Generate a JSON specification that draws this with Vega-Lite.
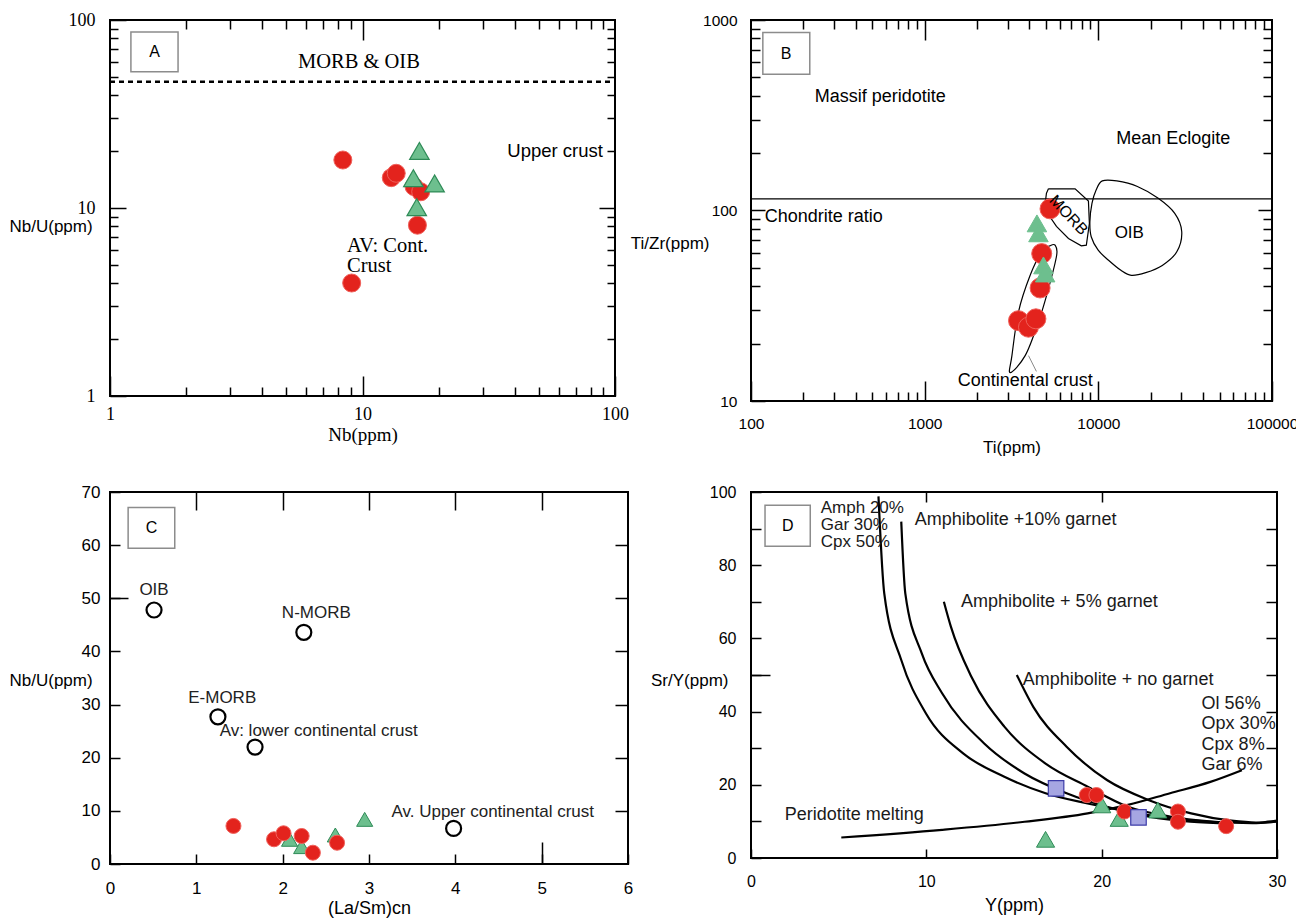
{
 "$schema": "https://vega.github.io/schema/vega-lite/v6.json",
 "background": "white",
 "padding": {"left": 8, "top": 10, "right": 5, "bottom": 5},
 "columns": 2,
 "spacing": {"row": 91, "column": 123},
 "bounds": "flush",
 "config": {
  "font": "Liberation Sans",
  "view": {"stroke": "black", "strokeWidth": 2},
  "axis": {"domain": false, "grid": false, "ticks": true, "tickColor": "black", "tickWidth": 1.5, "labelColor": "black", "titleColor": "black", "labelFlush": false, "labelOverlap": false, "titleFontWeight": "normal", "labelFont": "Liberation Sans", "titleFont": "Liberation Sans", "labelFontSize": 16, "titleFontSize": 17}
 },
 "concat": [
  {
   "width": 505, "height": 376,
   "layer": [
    {
     "data": {"values": [{"nb": 1, "nbu": 47}, {"nb": 100, "nbu": 47}]},
     "mark": {"type": "line", "color": "black", "strokeWidth": 2.5, "strokeDash": [5, 4]},
     "encoding": {
      "x": {"field": "nb", "type": "quantitative", "scale": {"type": "log", "domain": [1, 100]},
       "axis": {"orient": "bottom", "values": [1, 10, 100], "format": "d", "offset": -20, "tickSize": 20,
        "labelPadding": 9, "labelFont": "Liberation Serif", "labelFontSize": 18,
        "title": "Nb(ppm)", "titleFont": "Liberation Serif", "titleFontSize": 19, "titleY": 58, "titleBaseline": "middle"}},
      "y": {"field": "nbu", "type": "quantitative", "scale": {"type": "log", "domain": [1, 100]},
       "axis": {"orient": "left", "values": [1, 10, 100], "format": "d", "offset": -16, "tickSize": 16,
        "labelPadding": 15, "labelFont": "Liberation Serif", "labelFontSize": 18,
        "title": "Nb/U(ppm)", "titleAngle": 0, "titleAlign": "left", "titleBaseline": "middle", "titleX": -117, "titleY": 206}}
     }
    },
    {
     "data": {"values": [{"nb": 8.36, "nbu": 18.0}, {"nb": 13.0, "nbu": 14.5}, {"nb": 13.6, "nbu": 15.3}, {"nb": 16.0, "nbu": 13.0}, {"nb": 17.0, "nbu": 12.2}, {"nb": 16.5, "nbu": 8.1}, {"nb": 9.06, "nbu": 3.99}]},
     "mark": {"type": "point", "shape": "circle", "filled": true, "size": 324, "fill": "#e3231d", "stroke": "#f0605a", "strokeWidth": 1, "opacity": 1},
     "encoding": {
      "x": {"field": "nb", "type": "quantitative", "scale": {"type": "log", "domain": [1, 100]},
       "axis": {"orient": "bottom", "values": [2,3,4,5,6,7,8,9,20,30,40,50,60,70,80,90], "offset": -9, "tickSize": 9, "labels": false, "title": null}},
      "y": {"field": "nbu", "type": "quantitative", "scale": {"type": "log", "domain": [1, 100]},
       "axis": {"orient": "left", "values": [2,3,4,5,6,7,8,9,20,30,40,50,60,70,80,90], "offset": -8, "tickSize": 8, "labels": false, "title": null}}
     }
    },
    {
     "data": {"values": [{"nb": 16.8, "nbu": 20.1}, {"nb": 15.9, "nbu": 14.4}, {"nb": 19.3, "nbu": 13.5}, {"nb": 16.4, "nbu": 10.1}]},
     "mark": {"type": "point", "shape": "triangle-up", "filled": true, "size": 380, "fill": "#6dbf8e", "stroke": "#2e8b57", "strokeWidth": 1.2, "opacity": 1},
     "encoding": {
      "x": {"field": "nb", "type": "quantitative", "scale": {"type": "log", "domain": [1, 100]},
       "axis": {"orient": "top", "values": [10], "offset": -20, "tickSize": 20, "labels": false, "title": null}},
      "y": {"field": "nbu", "type": "quantitative", "scale": {"type": "log", "domain": [1, 100]},
       "axis": {"orient": "right", "values": [10], "offset": -16, "tickSize": 16, "labels": false, "title": null}}
     }
    },
    {
     "data": {"values": [{"nb": 9.68, "nbu": 59.9, "t": "MORB & OIB"}]},
     "mark": {"type": "text", "font": "Liberation Serif", "fontSize": 20.5, "align": "center", "baseline": "middle", "color": "black"},
     "encoding": {
      "x": {"field": "nb", "type": "quantitative", "scale": {"type": "log", "domain": [1, 100]},
       "axis": {"orient": "top", "values": [2,3,4,5,6,7,8,9,20,30,40,50,60,70,80,90], "offset": -9, "tickSize": 9, "labels": false, "title": null}},
      "y": {"field": "nbu", "type": "quantitative", "scale": {"type": "log", "domain": [1, 100]},
       "axis": {"orient": "right", "values": [2,3,4,5,6,7,8,9,20,30,40,50,60,70,80,90], "offset": -8, "tickSize": 8, "labels": false, "title": null}},
      "text": {"field": "t"}
     }
    },
    {
     "data": {"values": [{"nb": 8.68, "nbu": 6.25, "t": "AV: Cont."}, {"nb": 8.68, "nbu": 4.9, "t": "Crust"}]},
     "mark": {"type": "text", "font": "Liberation Serif", "fontSize": 20.5, "align": "left", "baseline": "middle", "color": "black"},
     "encoding": {
      "x": {"field": "nb", "type": "quantitative", "scale": {"type": "log", "domain": [1, 100]}, "axis": null},
      "y": {"field": "nbu", "type": "quantitative", "scale": {"type": "log", "domain": [1, 100]}, "axis": null},
      "text": {"field": "t"}
     }
    },
    {
     "data": {"values": [{"nb": 89.6, "nbu": 20.2, "t": "Upper crust"}]},
     "mark": {"type": "text", "font": "Liberation Sans", "fontSize": 18.5, "align": "right", "baseline": "middle", "color": "black"},
     "encoding": {
      "x": {"field": "nb", "type": "quantitative", "scale": {"type": "log", "domain": [1, 100]}, "axis": null},
      "y": {"field": "nbu", "type": "quantitative", "scale": {"type": "log", "domain": [1, 100]}, "axis": null},
      "text": {"field": "t"}
     }
    },
    {
     "data": {"values": [{"bx": 1.21, "bx2": 1.86, "by": 53, "by2": 86.4}]},
     "mark": {"type": "rect", "fill": "white", "fillOpacity": 0, "stroke": "#8c8c8c", "strokeWidth": 1.5},
     "encoding": {
      "x": {"field": "bx", "type": "quantitative", "scale": {"type": "log", "domain": [1, 100]}, "axis": null},
      "x2": {"field": "bx2"},
      "y": {"field": "by", "type": "quantitative", "scale": {"type": "log", "domain": [1, 100]}, "axis": null},
      "y2": {"field": "by2"}
     }
    },
    {
     "data": {"values": [{"nb": 1.5, "nbu": 67.6, "t": "A"}]},
     "mark": {"type": "text", "font": "Liberation Sans", "fontSize": 16, "align": "center", "baseline": "middle", "color": "black"},
     "encoding": {
      "x": {"field": "nb", "type": "quantitative", "scale": {"type": "log", "domain": [1, 100]}, "axis": null},
      "y": {"field": "nbu", "type": "quantitative", "scale": {"type": "log", "domain": [1, 100]}, "axis": null},
      "text": {"field": "t"}
     }
    }
   ],
   "resolve": {"axis": {"x": "independent", "y": "independent"}}
  },
  {
   "width": 521, "height": 381,
   "layer": [
    {
     "data": {"values": [{"ti": 100, "tz": 115}, {"ti": 100000, "tz": 115}]},
     "mark": {"type": "line", "color": "black", "strokeWidth": 1.2},
     "encoding": {
      "x": {"field": "ti", "type": "quantitative", "scale": {"type": "log", "domain": [100, 100000]},
       "axis": {"orient": "bottom", "values": [100, 1000, 10000, 100000], "format": "d", "offset": -20, "tickSize": 20,
        "labelPadding": 15, "labelFontSize": 15.5, "title": "Ti(ppm)", "titleY": 66, "titleBaseline": "middle"}},
      "y": {"field": "tz", "type": "quantitative", "scale": {"type": "log", "domain": [10, 1000]},
       "axis": {"orient": "left", "values": [10, 100, 1000], "format": "d", "offset": -14, "tickSize": 14,
        "labelPadding": 14, "labelFontSize": 15.5, "title": "Ti/Zr(ppm)", "titleAngle": 0, "titleAlign": "right", "titleBaseline": "middle", "titleX": -56, "titleY": 223}}
     }
    },
    {
     "data": {"values": [{"ti": 5160, "tz": 130, "i": 0}, {"ti": 7350, "tz": 130, "i": 1}, {"ti": 8770, "tz": 112, "i": 2}, {"ti": 8880, "tz": 85.5, "i": 3}, {"ti": 8530, "tz": 65.8, "i": 4}, {"ti": 7980, "tz": 65.3, "i": 5}, {"ti": 6730, "tz": 71.3, "i": 6}, {"ti": 5740, "tz": 82.6, "i": 7}, {"ti": 5100, "tz": 96.6, "i": 8}, {"ti": 4940, "tz": 109, "i": 9}, {"ti": 5025, "tz": 123, "i": 10}, {"ti": 5160, "tz": 130, "i": 11}]},
     "mark": {"type": "line", "color": "black", "strokeWidth": 1.2},
     "encoding": {
      "x": {"field": "ti", "type": "quantitative", "scale": {"type": "log", "domain": [100, 100000]},
       "axis": {"orient": "bottom", "values": [200,300,400,500,600,700,800,900,2000,3000,4000,5000,6000,7000,8000,9000,20000,30000,40000,50000,60000,70000,80000,90000], "offset": -9, "tickSize": 9, "labels": false, "title": null}},
      "y": {"field": "tz", "type": "quantitative", "scale": {"type": "log", "domain": [10, 1000]},
       "axis": {"orient": "left", "values": [20,30,40,50,60,70,80,90,200,300,400,500,600,700,800,900], "offset": -9, "tickSize": 9, "labels": false, "title": null}},
      "order": {"field": "i", "type": "quantitative"}
     }
    },
    {
     "data": {"values": [{"ti": 10540, "tz": 143, "i": 0}, {"ti": 12770, "tz": 143, "i": 1}, {"ti": 16790, "tz": 133.7, "i": 2}, {"ti": 22130, "tz": 115.9, "i": 3}, {"ti": 27540, "tz": 96.6, "i": 4}, {"ti": 30220, "tz": 77.4, "i": 5}, {"ti": 28300, "tz": 60.7, "i": 6}, {"ti": 23350, "tz": 51.5, "i": 7}, {"ti": 18750, "tz": 47.2, "i": 8}, {"ti": 15490, "tz": 45.7, "i": 9}, {"ti": 13490, "tz": 48.5, "i": 10}, {"ti": 11450, "tz": 54.8, "i": 11}, {"ti": 9980, "tz": 61.9, "i": 12}, {"ti": 9100, "tz": 72.8, "i": 13}, {"ti": 8940, "tz": 87.3, "i": 14}, {"ti": 9190, "tz": 109, "i": 15}, {"ti": 9710, "tz": 128, "i": 16}]},
     "mark": {"type": "line", "color": "black", "strokeWidth": 1.2, "interpolate": "cardinal-closed"},
     "encoding": {
      "x": {"field": "ti", "type": "quantitative", "scale": {"type": "log", "domain": [100, 100000]},
       "axis": {"orient": "top", "values": [1000, 10000], "offset": -20, "tickSize": 20, "labels": false, "title": null}},
      "y": {"field": "tz", "type": "quantitative", "scale": {"type": "log", "domain": [10, 1000]},
       "axis": {"orient": "right", "values": [100], "offset": -14, "tickSize": 14, "labels": false, "title": null}},
      "order": {"field": "i", "type": "quantitative"}
     }
    },
    {
     "data": {"values": [{"ti": 5636, "tz": 65.8, "i": 0}, {"ti": 5755, "tz": 58.2, "i": 1}, {"ti": 5160, "tz": 38.8, "i": 2}, {"ti": 4520, "tz": 26.0, "i": 3}, {"ti": 3790, "tz": 17.3, "i": 4}, {"ti": 3110, "tz": 14.1, "i": 5}, {"ti": 3180, "tz": 17.3, "i": 6}, {"ti": 3470, "tz": 29.4, "i": 7}, {"ti": 4050, "tz": 45.7, "i": 8}, {"ti": 4720, "tz": 60.7, "i": 9}, {"ti": 5270, "tz": 65.3, "i": 10}]},
     "mark": {"type": "line", "color": "black", "strokeWidth": 1.2, "interpolate": "cardinal-closed"},
     "encoding": {
      "x": {"field": "ti", "type": "quantitative", "scale": {"type": "log", "domain": [100, 100000]},
       "axis": {"orient": "top", "values": [200,300,400,500,600,700,800,900,2000,3000,4000,5000,6000,7000,8000,9000,20000,30000,40000,50000,60000,70000,80000,90000], "offset": -9, "tickSize": 9, "labels": false, "title": null}},
      "y": {"field": "tz", "type": "quantitative", "scale": {"type": "log", "domain": [10, 1000]},
       "axis": {"orient": "right", "values": [20,30,40,50,60,70,80,90,200,300,400,500,600,700,800,900], "offset": -9, "tickSize": 9, "labels": false, "title": null}},
      "order": {"field": "i", "type": "quantitative"}
     }
    },
    {
     "data": {"values": [{"ti": 3963, "tz": 17.3}, {"ti": 4400, "tz": 14.3}]},
     "mark": {"type": "line", "color": "#8a8a8a", "strokeWidth": 1},
     "encoding": {
      "x": {"field": "ti", "type": "quantitative", "scale": {"type": "log", "domain": [100, 100000]}, "axis": null},
      "y": {"field": "tz", "type": "quantitative", "scale": {"type": "log", "domain": [10, 1000]}, "axis": null}
     }
    },
    {
     "data": {"values": [{"ti": 5270, "tz": 102}, {"ti": 4720, "tz": 59.4}, {"ti": 4620, "tz": 39.2}, {"ti": 3470, "tz": 26.4}, {"ti": 3960, "tz": 24.4}, {"ti": 4370, "tz": 27.0}]},
     "mark": {"type": "point", "shape": "circle", "filled": true, "size": 400, "fill": "#e3231d", "stroke": "#f0605a", "strokeWidth": 1, "opacity": 1},
     "encoding": {
      "x": {"field": "ti", "type": "quantitative", "scale": {"type": "log", "domain": [100, 100000]}, "axis": null},
      "y": {"field": "tz", "type": "quantitative", "scale": {"type": "log", "domain": [10, 1000]}, "axis": null}
     }
    },
    {
     "data": {"values": [{"ti": 4430, "tz": 85.6}, {"ti": 4520, "tz": 75.9}, {"ti": 4830, "tz": 51.5}, {"ti": 4940, "tz": 46.7}]},
     "mark": {"type": "point", "shape": "triangle-up", "filled": true, "size": 380, "fill": "#6dbf8e", "stroke": "#6dbf8e", "strokeWidth": 1, "opacity": 1},
     "encoding": {
      "x": {"field": "ti", "type": "quantitative", "scale": {"type": "log", "domain": [100, 100000]}, "axis": null},
      "y": {"field": "tz", "type": "quantitative", "scale": {"type": "log", "domain": [10, 1000]}, "axis": null}
     }
    },
    {
     "data": {"values": [{"ti": 233, "tz": 395, "t": "Massif peridotite"}, {"ti": 12680, "tz": 238, "t": "Mean Eclogite"}, {"ti": 120, "tz": 93, "t": "Chondrite ratio"}, {"ti": 1549, "tz": 12.7, "t": "Continental crust"}]},
     "mark": {"type": "text", "fontSize": 18, "align": "left", "baseline": "middle", "color": "black"},
     "encoding": {
      "x": {"field": "ti", "type": "quantitative", "scale": {"type": "log", "domain": [100, 100000]}, "axis": null},
      "y": {"field": "tz", "type": "quantitative", "scale": {"type": "log", "domain": [10, 1000]}, "axis": null},
      "text": {"field": "t"}
     }
    },
    {
     "data": {"values": [{"ti": 15070, "tz": 75.9, "t": "OIB"}]},
     "mark": {"type": "text", "fontSize": 17, "align": "center", "baseline": "middle", "color": "black"},
     "encoding": {
      "x": {"field": "ti", "type": "quantitative", "scale": {"type": "log", "domain": [100, 100000]}, "axis": null},
      "y": {"field": "tz", "type": "quantitative", "scale": {"type": "log", "domain": [10, 1000]}, "axis": null},
      "text": {"field": "t"}
     }
    },
    {
     "data": {"values": [{"ti": 6730, "tz": 94.6, "t": "MORB"}]},
     "mark": {"type": "text", "fontSize": 16, "align": "center", "baseline": "middle", "angle": 47, "color": "black"},
     "encoding": {
      "x": {"field": "ti", "type": "quantitative", "scale": {"type": "log", "domain": [100, 100000]}, "axis": null},
      "y": {"field": "tz", "type": "quantitative", "scale": {"type": "log", "domain": [10, 1000]}, "axis": null},
      "text": {"field": "t"}
     }
    },
    {
     "data": {"values": [{"bx": 117, "bx2": 218, "by": 519, "by2": 861}]},
     "mark": {"type": "rect", "fill": "white", "fillOpacity": 0, "stroke": "#8c8c8c", "strokeWidth": 1.5},
     "encoding": {
      "x": {"field": "bx", "type": "quantitative", "scale": {"type": "log", "domain": [100, 100000]}, "axis": null},
      "x2": {"field": "bx2"},
      "y": {"field": "by", "type": "quantitative", "scale": {"type": "log", "domain": [10, 1000]}, "axis": null},
      "y2": {"field": "by2"}
     }
    },
    {
     "data": {"values": [{"ti": 159, "tz": 667, "t": "B"}]},
     "mark": {"type": "text", "fontSize": 16, "align": "center", "baseline": "middle", "color": "black"},
     "encoding": {
      "x": {"field": "ti", "type": "quantitative", "scale": {"type": "log", "domain": [100, 100000]}, "axis": null},
      "y": {"field": "tz", "type": "quantitative", "scale": {"type": "log", "domain": [10, 1000]}, "axis": null},
      "text": {"field": "t"}
     }
    }
   ],
   "resolve": {"axis": {"x": "independent", "y": "independent"}}
  },
  {
   "width": 518, "height": 372,
   "layer": [
    {
     "data": {"values": [{"ls": 0.51, "nu": 47.8}, {"ls": 2.245, "nu": 43.6}, {"ls": 1.25, "nu": 27.7}, {"ls": 1.68, "nu": 22.0}, {"ls": 3.98, "nu": 6.7}]},
     "mark": {"type": "point", "shape": "circle", "filled": false, "size": 225, "stroke": "black", "strokeWidth": 2.2, "opacity": 1},
     "encoding": {
      "x": {"field": "ls", "type": "quantitative", "scale": {"domain": [0, 6]},
       "axis": {"orient": "bottom", "values": [0,1,2,3,4,5,6], "offset": -10, "tickSize": 10, "labelPadding": 16, "labelFontSize": 17, "title": "(La/Sm)cn", "titleFontSize": 18, "titleY": 54, "titleBaseline": "middle"}},
      "y": {"field": "nu", "type": "quantitative", "scale": {"domain": [0, 70]},
       "axis": {"orient": "left", "values": [0,10,20,30,40,50,60,70], "offset": -10, "tickSize": 10, "labelPadding": 10, "labelFontSize": 17, "title": "Nb/U(ppm)", "titleAngle": 0, "titleAlign": "left", "titleBaseline": "middle", "titleX": -111, "titleY": 188}}
     }
    },
    {
     "data": {"values": [{"ls": 2.08, "nu": 4.65}, {"ls": 2.22, "nu": 3.27}, {"ls": 2.61, "nu": 5.46}, {"ls": 2.95, "nu": 8.4}]},
     "mark": {"type": "point", "shape": "triangle-up", "filled": true, "size": 260, "fill": "#6dbf8e", "stroke": "#2e8b57", "strokeWidth": 1, "opacity": 1},
     "encoding": {
      "x": {"field": "ls", "type": "quantitative", "scale": {"domain": [0, 6]},
       "axis": {"orient": "bottom", "values": [5], "offset": -22, "tickSize": 22, "labels": false, "title": null}},
      "y": {"field": "nu", "type": "quantitative", "scale": {"domain": [0, 70]},
       "axis": {"orient": "right", "values": [10,20,30,40,50,60], "offset": -13, "tickSize": 13, "labels": false, "title": null}}
     }
    },
    {
     "data": {"values": [{"ls": 1.43, "nu": 7.16}, {"ls": 1.90, "nu": 4.65}, {"ls": 2.01, "nu": 5.78}, {"ls": 2.22, "nu": 5.27}, {"ls": 2.35, "nu": 2.13}, {"ls": 2.63, "nu": 4.0}]},
     "mark": {"type": "point", "shape": "circle", "filled": true, "size": 225, "fill": "#e3231d", "stroke": "#f0605a", "strokeWidth": 1, "opacity": 1},
     "encoding": {
      "x": {"field": "ls", "type": "quantitative", "scale": {"domain": [0, 6]},
       "axis": {"orient": "top", "values": [1,2,3,4,5], "offset": -18, "tickSize": 18, "labels": false, "title": null}},
      "y": {"field": "nu", "type": "quantitative", "scale": {"domain": [0, 70]},
       "axis": {"orient": "left", "values": [50], "offset": -18, "tickSize": 18, "labels": false, "title": null}}
     }
    },
    {
     "data": {"values": [{"ls": 0.51, "nu": 51.5, "t": "OIB"}, {"ls": 2.39, "nu": 47.2, "t": "N-MORB"}, {"ls": 1.30, "nu": 31.3, "t": "E-MORB"}]},
     "mark": {"type": "text", "fontSize": 17, "align": "center", "baseline": "middle", "color": "#222"},
     "encoding": {
      "x": {"field": "ls", "type": "quantitative", "scale": {"domain": [0, 6]}, "axis": null},
      "y": {"field": "nu", "type": "quantitative", "scale": {"domain": [0, 70]}, "axis": null},
      "text": {"field": "t"}
     }
    },
    {
     "data": {"values": [{"ls": 1.27, "nu": 25.1, "t": "Av: lower continental crust"}, {"ls": 3.26, "nu": 9.85, "t": "Av. Upper continental crust"}]},
     "mark": {"type": "text", "fontSize": 17, "align": "left", "baseline": "middle", "color": "#222"},
     "encoding": {
      "x": {"field": "ls", "type": "quantitative", "scale": {"domain": [0, 6]}, "axis": null},
      "y": {"field": "nu", "type": "quantitative", "scale": {"domain": [0, 70]}, "axis": null},
      "text": {"field": "t"}
     }
    },
    {
     "data": {"values": [{"bx": 0.21, "bx2": 0.75, "by": 59.4, "by2": 67.1}]},
     "mark": {"type": "rect", "fill": "white", "fillOpacity": 0, "stroke": "#8c8c8c", "strokeWidth": 1.5},
     "encoding": {
      "x": {"field": "bx", "type": "quantitative", "scale": {"domain": [0, 6]}, "axis": null},
      "x2": {"field": "bx2"},
      "y": {"field": "by", "type": "quantitative", "scale": {"domain": [0, 70]}, "axis": null},
      "y2": {"field": "by2"}
     }
    },
    {
     "data": {"values": [{"ls": 0.48, "nu": 63.2, "t": "C"}]},
     "mark": {"type": "text", "fontSize": 16, "align": "center", "baseline": "middle", "color": "black"},
     "encoding": {
      "x": {"field": "ls", "type": "quantitative", "scale": {"domain": [0, 6]}, "axis": null},
      "y": {"field": "nu", "type": "quantitative", "scale": {"domain": [0, 70]}, "axis": null},
      "text": {"field": "t"}
     }
    }
   ],
   "resolve": {"axis": {"x": "independent", "y": "independent"}}
  },
  {
   "width": 526, "height": 366,
   "layer": [
    {
     "data": {"values": [
      {"c": "a", "yy": 7.27, "sy": 98.8}, {"c": "a", "yy": 7.6, "sy": 72.3}, {"c": "a", "yy": 8.57, "sy": 54.1}, {"c": "a", "yy": 9.98, "sy": 39.5}, {"c": "a", "yy": 12.1, "sy": 28.6}, {"c": "a", "yy": 14.45, "sy": 22.2}, {"c": "a", "yy": 16.8, "sy": 17.7}, {"c": "a", "yy": 19.2, "sy": 14.9}, {"c": "a", "yy": 21.5, "sy": 12.7}, {"c": "a", "yy": 23.9, "sy": 10.9}, {"c": "a", "yy": 26.2, "sy": 9.9}, {"c": "a", "yy": 28.6, "sy": 9.5}, {"c": "a", "yy": 30, "sy": 9.9},
      {"c": "b", "yy": 8.57, "sy": 91.9}, {"c": "b", "yy": 8.8, "sy": 72.3}, {"c": "b", "yy": 9.74, "sy": 55.9}, {"c": "b", "yy": 10.9, "sy": 45}, {"c": "b", "yy": 13.3, "sy": 31.3}, {"c": "b", "yy": 15.6, "sy": 23.1}, {"c": "b", "yy": 18.0, "sy": 17.7}, {"c": "b", "yy": 20.3, "sy": 14.0}, {"c": "b", "yy": 22.7, "sy": 11.3}, {"c": "b", "yy": 25.06, "sy": 9.9}, {"c": "b", "yy": 27.4, "sy": 9.4},
      {"c": "d", "yy": 11.0, "sy": 70.0}, {"c": "d", "yy": 11.4, "sy": 63.2}, {"c": "d", "yy": 12.57, "sy": 49.5}, {"c": "d", "yy": 14.45, "sy": 35.9}, {"c": "d", "yy": 16.8, "sy": 25.8}, {"c": "d", "yy": 19.2, "sy": 19.5}, {"c": "d", "yy": 21.5, "sy": 14}, {"c": "d", "yy": 23.9, "sy": 11.3}, {"c": "d", "yy": 27.4, "sy": 9.5},
      {"c": "e", "yy": 15.16, "sy": 50}, {"c": "e", "yy": 16.1, "sy": 41.3}, {"c": "e", "yy": 18.0, "sy": 30.4}, {"c": "e", "yy": 20.3, "sy": 21.3}, {"c": "e", "yy": 22.7, "sy": 15.8}, {"c": "e", "yy": 25.1, "sy": 12.2}, {"c": "e", "yy": 27.4, "sy": 10.2}, {"c": "e", "yy": 28.8, "sy": 9.7}, {"c": "e", "yy": 30, "sy": 10.2},
      {"c": "p", "yy": 5.15, "sy": 5.6}, {"c": "p", "yy": 10.9, "sy": 7.7}, {"c": "p", "yy": 15.6, "sy": 9.9}, {"c": "p", "yy": 19.2, "sy": 12.2}, {"c": "p", "yy": 21.5, "sy": 14.5}, {"c": "p", "yy": 23.9, "sy": 17.7}, {"c": "p", "yy": 26.2, "sy": 20.8}, {"c": "p", "yy": 28.0, "sy": 24.0}
     ]},
     "mark": {"type": "line", "color": "black", "strokeWidth": 2.2, "interpolate": "monotone"},
     "encoding": {
      "x": {"field": "yy", "type": "quantitative", "scale": {"domain": [0, 30]},
       "axis": {"orient": "bottom", "values": [0,10,20,30], "offset": -9, "tickSize": 9, "labelPadding": 15, "title": "Y(ppm)", "titleFontSize": 18, "titleY": 56, "titleBaseline": "middle"}},
      "y": {"field": "sy", "type": "quantitative", "scale": {"domain": [0, 100]},
       "axis": {"orient": "left", "values": [0,10,20,30,40,50,60,70,80,90,100], "labelExpr": "datum.value % 20 == 0 ? format(datum.value, 'd') : ''", "offset": -10, "tickSize": 10, "labelPadding": 15, "title": "Sr/Y(ppm)", "titleAngle": 0, "titleAlign": "right", "titleBaseline": "middle", "titleX": -33, "titleY": 188}},
      "detail": {"field": "c"}
     }
    },
    {
     "data": {"values": [{"yy": 16.8, "sy": 5.1}, {"yy": 20.0, "sy": 14.5}, {"yy": 21.0, "sy": 10.8}, {"yy": 23.2, "sy": 13.1}]},
     "mark": {"type": "point", "shape": "triangle-up", "filled": true, "size": 330, "fill": "#6dbf8e", "stroke": "#2e8b57", "strokeWidth": 1, "opacity": 1},
     "encoding": {
      "x": {"field": "yy", "type": "quantitative", "scale": {"domain": [0, 30]},
       "axis": {"orient": "top", "values": [10, 20], "offset": -10, "tickSize": 10, "labels": false, "title": null}},
      "y": {"field": "sy", "type": "quantitative", "scale": {"domain": [0, 100]},
       "axis": {"orient": "right", "values": [10,20,30,40,50,60,70,80,90], "offset": -11, "tickSize": 11, "labels": false, "title": null}}
     }
    },
    {
     "data": {"values": [{"yy": 19.15, "sy": 17.2}, {"yy": 19.7, "sy": 17.2}, {"yy": 21.3, "sy": 12.7}, {"yy": 24.35, "sy": 12.7}, {"yy": 24.35, "sy": 9.9}, {"yy": 27.1, "sy": 8.7}]},
     "mark": {"type": "point", "shape": "circle", "filled": true, "size": 225, "fill": "#e3231d", "stroke": "#f0605a", "strokeWidth": 1, "opacity": 1},
     "encoding": {
      "x": {"field": "yy", "type": "quantitative", "scale": {"domain": [0, 30]}, "axis": null},
      "y": {"field": "sy", "type": "quantitative", "scale": {"domain": [0, 100]},
       "axis": {"orient": "left", "values": [50], "offset": -19, "tickSize": 19, "labels": false, "title": null}}
     }
    },
    {
     "data": {"values": [{"yy": 17.4, "sy": 19.0}, {"yy": 22.1, "sy": 11.1}]},
     "mark": {"type": "point", "shape": "square", "filled": true, "size": 240, "fill": "#a6a6e2", "stroke": "#3c3ca8", "strokeWidth": 1.2, "opacity": 1},
     "encoding": {
      "x": {"field": "yy", "type": "quantitative", "scale": {"domain": [0, 30]}, "axis": null},
      "y": {"field": "sy", "type": "quantitative", "scale": {"domain": [0, 100]}, "axis": null}
     }
    },
    {
     "data": {"values": [
      {"yy": 3.98, "sy": 95.6, "t": "Amph 20%"}, {"yy": 3.98, "sy": 91.0, "t": "Gar 30%"}, {"yy": 3.98, "sy": 86.3, "t": "Cpx 50%"}
     ]},
     "mark": {"type": "text", "fontSize": 17, "align": "left", "baseline": "middle", "color": "#1a1a1a"},
     "encoding": {
      "x": {"field": "yy", "type": "quantitative", "scale": {"domain": [0, 30]}, "axis": null},
      "y": {"field": "sy", "type": "quantitative", "scale": {"domain": [0, 100]}, "axis": null},
      "text": {"field": "t"}
     }
    },
    {
     "data": {"values": [
      {"yy": 9.34, "sy": 92.3, "t": "Amphibolite +10% garnet"},
      {"yy": 11.98, "sy": 70.0, "t": "Amphibolite + 5% garnet"},
      {"yy": 15.5, "sy": 48.6, "t": "Amphibolite + no garnet"},
      {"yy": 25.7, "sy": 42.0, "t": "Ol 56%"}, {"yy": 25.7, "sy": 36.5, "t": "Opx 30%"}, {"yy": 25.7, "sy": 30.9, "t": "Cpx 8%"}, {"yy": 25.7, "sy": 25.4, "t": "Gar 6%"},
      {"yy": 1.92, "sy": 11.7, "t": "Peridotite melting"}
     ]},
     "mark": {"type": "text", "fontSize": 18, "align": "left", "baseline": "middle", "color": "#1a1a1a"},
     "encoding": {
      "x": {"field": "yy", "type": "quantitative", "scale": {"domain": [0, 30]}, "axis": null},
      "y": {"field": "sy", "type": "quantitative", "scale": {"domain": [0, 100]}, "axis": null},
      "text": {"field": "t"}
     }
    },
    {
     "data": {"values": [{"bx": 0.8, "bx2": 3.38, "by": 85.2, "by2": 96.4}]},
     "mark": {"type": "rect", "fill": "white", "fillOpacity": 0, "stroke": "#8c8c8c", "strokeWidth": 1.5},
     "encoding": {
      "x": {"field": "bx", "type": "quantitative", "scale": {"domain": [0, 30]}, "axis": null},
      "x2": {"field": "bx2"},
      "y": {"field": "by", "type": "quantitative", "scale": {"domain": [0, 100]}, "axis": null},
      "y2": {"field": "by2"}
     }
    },
    {
     "data": {"values": [{"yy": 2.1, "sy": 90.8, "t": "D"}]},
     "mark": {"type": "text", "fontSize": 16, "align": "center", "baseline": "middle", "color": "black"},
     "encoding": {
      "x": {"field": "yy", "type": "quantitative", "scale": {"domain": [0, 30]}, "axis": null},
      "y": {"field": "sy", "type": "quantitative", "scale": {"domain": [0, 100]}, "axis": null},
      "text": {"field": "t"}
     }
    }
   ],
   "resolve": {"axis": {"x": "independent", "y": "independent"}}
  }
 ]
}
